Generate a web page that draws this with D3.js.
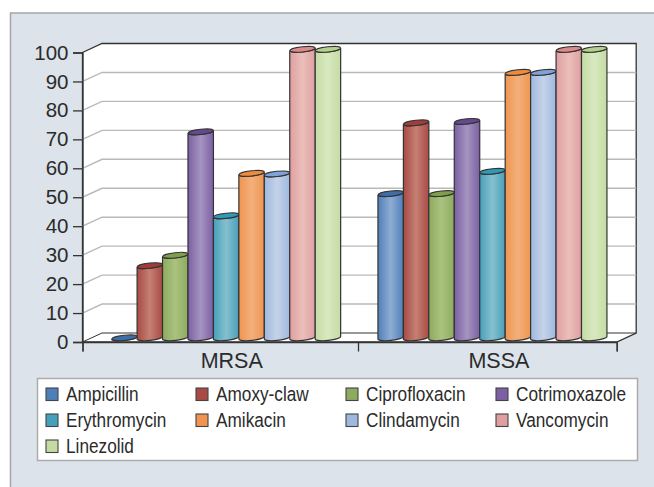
<!DOCTYPE html>
<html>
<head>
<meta charset="utf-8">
<script src="https://cdn.jsdelivr.net/npm/d3@7"></script>
<style>
  html, body { margin: 0; padding: 0; background: #fff; }
  svg { display: block; }
  text { font-family: "Liberation Sans", Arial, sans-serif; fill: #2b2b2b; }
</style>
</head>
<body>
<div id="chart"></div>
<script>
const categories = ["MRSA", "MSSA"];
const drugs = ["Ampicillin", "Amoxy-claw", "Ciprofloxacin", "Cotrimoxazole", "Erythromycin", "Amikacin", "Clindamycin", "Vancomycin", "Linezolid"];
const mrsaValues = [0, 25, 28.6, 71.4, 42.3, 57, 56.8, 100, 100];
const mssaValues = [50, 74.5, 50, 75, 57.7, 92, 92, 100, 100];
const yTicks = [0, 10, 20, 30, 40, 50, 60, 70, 80, 90, 100];
const edgeColors = ["#4f7fb8", "#a84a45", "#8dab5e", "#7b60a3", "#47a0bb", "#ef9550", "#9fb8de", "#df9f9f", "#c4dca4"];
const midColors = ["#8fadd3", "#c58073", "#aac27f", "#a594c1", "#86c0ce", "#f3b07b", "#c4d3e9", "#ebbfbb", "#d8e8c0"];
const topColors = ["#3d6ea8", "#a03c3a", "#7f9f4c", "#65498f", "#2f9ab5", "#ee8a3e", "#7fa3d8", "#dd8a8a", "#b4d18e"];

const width = 654, height = 487;
const depthX = 19.5, depthY = -9;
const left = 82.5, right = 616.7;

const svg = d3.select("#chart").append("svg")
  .attr("width", width)
  .attr("height", height);

// outer panel
svg.append("rect")
  .attr("x", 10.5).attr("y", 13)
  .attr("width", width).attr("height", height)
  .attr("fill", "#dce3ea")
  .attr("stroke", "#a6a6a6")
  .attr("stroke-width", 1.5);

const y = d3.scaleLinear().domain([0, 100]).range([342, 52.5]);
const yBar = d3.scaleLinear().domain([0, 100]).range([337.8, 49.3]);
const xBand = d3.scaleBand().domain(categories).range([93, 625.6]);
const xBar = d3.scaleBand().domain(drugs).range([0, 229]);
const xEdge = d3.scaleLinear().domain([0, 1, 2]).range([left, 358, right]);

// walls and floor
const wall = [
  [left, y(100)], [left + depthX, y(100) + depthY], [right + depthX, y(100) + depthY],
  [right + depthX, y(0) + depthY], [right, y(0)], [left, y(0)]
];
svg.append("path")
  .attr("d", d3.line()(wall) + "Z")
  .attr("fill", "#fff")
  .attr("stroke", "#333")
  .attr("stroke-width", 1.3);

const grid = svg.append("g");
grid.selectAll("path")
  .data(yTicks.filter(d => d > 0 && d < 100))
  .join("path")
  .attr("d", d => d3.line()([[left, y(d)], [left + depthX, y(d) + depthY], [right + depthX, y(d) + depthY]]))
  .attr("fill", "none")
  .attr("stroke", "#b9b9b9")
  .attr("stroke-width", 1.4);

// back edge of the floor
svg.append("path")
  .attr("d", d3.line()([[left, y(0)], [left + depthX, y(0) + depthY], [right + depthX, y(0) + depthY]]))
  .attr("fill", "none")
  .attr("stroke", "#333")
  .attr("stroke-width", 1);

// gradients
const defs = svg.append("defs");
drugs.forEach((d, i) => {
  const g = defs.append("linearGradient").attr("id", "cyl" + i);
  g.append("stop").attr("offset", "0%").attr("stop-color", edgeColors[i]);
  g.append("stop").attr("offset", "50%").attr("stop-color", midColors[i]);
  g.append("stop").attr("offset", "100%").attr("stop-color", edgeColors[i]);
});

// cylinders
const rows = [mrsaValues, mssaValues];
const tilt = 1.4, ry = 2.6;
categories.forEach((cat, c) => {
  const g = svg.append("g");
  const offset = xBand(cat) + xBand.bandwidth() / 2 - xBar.range()[1] / 2;
  const bars = g.selectAll("g")
    .data(rows[c])
    .join("g");

  bars.append("path")
    .attr("d", (v, i) => {
      const x0 = offset + xBar(drugs[i]), x1 = x0 + xBar.bandwidth();
      const rx = (x1 - x0) / 2;
      const t = yBar(v), b = yBar(0);
      return `M${x0},${t + tilt}L${x0},${b + tilt}A${rx},${ry} -6 0 0 ${x1},${b - tilt}` +
        `L${x1},${t - tilt}A${rx},${ry} -6 0 1 ${x0},${t + tilt}Z`;
    })
    .attr("fill", (v, i) => `url(#cyl${i})`)
    .attr("stroke", "#333")
    .attr("stroke-width", 1.2);

  bars.append("ellipse")
    .attr("rx", xBar.bandwidth() / 2)
    .attr("ry", ry)
    .attr("transform", (v, i) => {
      const cx = offset + xBar(drugs[i]) + xBar.bandwidth() / 2;
      return `translate(${cx},${yBar(v)}) rotate(-6)`;
    })
    .attr("fill", (v, i) => topColors[i])
    .attr("stroke", "#333")
    .attr("stroke-width", 1);
});

// axes
const yAxis = d3.axisLeft(y)
  .tickValues(yTicks)
  .tickSize(9.5)
  .tickPadding(4.5);
const yG = svg.append("g")
  .attr("transform", `translate(${left},0)`)
  .call(yAxis);
yG.select(".domain").attr("stroke", "#333").attr("stroke-width", 1.3);
yG.selectAll(".tick line").attr("stroke", "#333").attr("stroke-width", 1.3);
yG.selectAll("text").attr("font-size", 20.5).attr("fill", "#2b2b2b").attr("font-family", "Liberation Sans");

const xAxis = d3.axisBottom(xEdge)
  .tickValues([0, 1, 2])
  .tickSize(9.5)
  .tickFormat("");
const xG = svg.append("g")
  .attr("transform", `translate(0,${y(0)})`)
  .call(xAxis);
xG.select(".domain").attr("stroke", "#333").attr("stroke-width", 1.3);
xG.selectAll(".tick line").attr("stroke", "#333").attr("stroke-width", 1.3);

svg.append("g").selectAll("text")
  .data(categories)
  .join("text")
  .attr("x", (d, i) => xEdge(i + 0.5) + 11.5)
  .attr("y", 368)
  .attr("text-anchor", "middle")
  .attr("font-size", 21.5)
  .text(d => d);

// legend
svg.append("rect")
  .attr("x", 37.5).attr("y", 378.5)
  .attr("width", 600).attr("height", 82)
  .attr("fill", "#fff")
  .attr("stroke", "#acacac")
  .attr("stroke-width", 1.5);

const legendCols = d3.scalePoint().domain([0, 1, 2, 3]).range([46, 496]);
const legendRows = d3.scalePoint().domain([0, 1, 2]).range([388, 440]);

const items = svg.append("g").selectAll("g")
  .data(drugs)
  .join("g")
  .attr("transform", (d, i) => `translate(${legendCols(i % 4)},${legendRows(Math.floor(i / 4))})`);

items.append("rect")
  .attr("width", 12).attr("height", 12.5)
  .attr("fill", (d, i) => edgeColors[i])
  .attr("stroke", "#444")
  .attr("stroke-width", 1.1);

// no narrow face installed, so squeeze the regular one
items.append("text")
  .attr("transform", "translate(20,13) scale(0.84,1)")
  .attr("font-size", 20.5)
  .text(d => d);
</script>
</body>
</html>
